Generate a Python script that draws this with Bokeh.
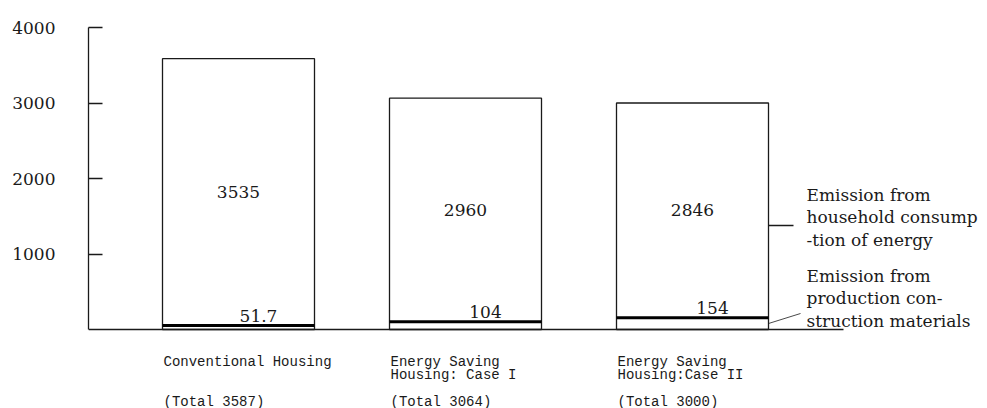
from bokeh.plotting import figure
from bokeh.models import Range1d, FixedTicker, ColumnDataSource
from bokeh.core.properties import value
from bokeh.embed import file_html
from bokeh.resources import INLINE

# ---- data ----
categories = ["Conventional Housing", "Energy Saving\nHousing: Case I", "Energy Saving\nHousing:Case II"]
total_labels = ["(Total 3587)", "(Total 3064)", "(Total 3000)"]
materials = [51.7, 104, 154]
household = [3535, 2960, 2846]
material_labels = ["51.7", "104", "154"]
household_labels = ["3535", "2960", "2846"]
y_ticks = [1000, 2000, 3000, 4000]
note_household = "Emission from\nhousehold consump\n-tion of energy"
note_materials = "Emission from\nproduction con-\nstruction materials"

# ---- layout ----
W, H = 987, 408
LEFT = 88
PX_X = 227.0          # px per category step
CENTER0 = 238.0       # px of first bar centre
PX_Y = 302.0 / 4000   # px per unit
ZERO_Y = 329.0        # px of y=0 from top
BAR_W = 152.0 / PX_X

x_start = -(CENTER0 - LEFT) / PX_X
x_end = (W - CENTER0) / PX_X
y_end = ZERO_Y / PX_Y
y_start = -(H - ZERO_Y) / PX_Y

FONT = value("DejaVu Serif")
CAT_FONT = value("Liberation Mono")
INK = "#1a1a1a"

xs = list(range(len(categories)))
tops = [m + h for m, h in zip(materials, household)]
src = ColumnDataSource(dict(
    x=xs,
    left=[x - BAR_W / 2 for x in xs],
    right=[x + BAR_W / 2 for x in xs],
    mat=materials,
    top=tops,
    mid=[m + h / 2 for m, h in zip(materials, household)],
    cat=categories,
    tot=total_labels,
    mlab=material_labels,
    hlab=household_labels,
    zero=[0] * len(xs),
))

p = figure(width=W, height=H, output_backend="svg", toolbar_location=None,
           x_range=Range1d(x_start, x_end), y_range=Range1d(y_start, y_end),
           x_axis_location=None, min_border_left=LEFT, min_border_right=0,
           min_border_top=0, min_border_bottom=0)
p.outline_line_color = None
p.grid.visible = False

ax = p.yaxis[0]
ax.ticker = FixedTicker(ticks=y_ticks)
ax.bounds = (0, 4000)
ax.major_tick_in = 14
ax.major_tick_out = 0
ax.minor_tick_line_color = None
ax.axis_line_color = INK
ax.major_tick_line_color = INK
ax.axis_line_width = 1.3
ax.major_tick_line_width = 1.3
ax.major_label_standoff = 33
ax.major_label_text_font = "DejaVu Serif"
ax.major_label_text_font_size = "17px"
ax.major_label_text_color = INK

# bars
p.quad(left="left", right="right", bottom="zero", top="mat", source=src,
       fill_color="white", line_color=INK, line_width=1.3)
p.quad(left="left", right="right", bottom="mat", top="top", source=src,
       fill_color="white", line_color=INK, line_width=1.3)
p.segment(x0="left", x1="right", y0="mat", y1="mat", source=src,
          line_color="black", line_width=3)

# baseline
base_end = xs[-1] + BAR_W / 2 + 75 / PX_X
p.segment(x0=[x_start], x1=[base_end], y0=[0], y1=[0], line_color=INK, line_width=1.3)

# values
p.text(x="x", y="mid", text="hlab", source=src, text_font=FONT, text_font_size="17px",
       text_align="center", text_baseline="middle", text_color=INK)
p.text(x="x", y="mat", text="mlab", source=src, text_font=FONT, text_font_size="17px",
       text_align="center", text_baseline="bottom", x_offset=20, y_offset=-4, text_color=INK)

# category labels
p.text(x="left", y="zero", text="cat", source=src, text_font=CAT_FONT, text_font_size="14px",
       text_align="left", text_baseline="top", x_offset=1, y_offset=24,
       text_line_height=0.85, text_color=INK)
p.text(x="left", y="zero", text="tot", source=src, text_font=CAT_FONT, text_font_size="14px",
       text_align="left", text_baseline="top", x_offset=1, y_offset=64, text_color=INK)

# side notes
rx = xs[-1] + BAR_W / 2
p.text(x=[rx], y=[(ZERO_Y - 217) / PX_Y], text=[note_household], text_font=FONT,
       text_font_size="17px", text_align="left", text_baseline="middle",
       x_offset=38, text_line_height=1.13, text_color=INK)
p.text(x=[rx], y=[(ZERO_Y - 298) / PX_Y], text=[note_materials], text_font=FONT,
       text_font_size="17px", text_align="left", text_baseline="middle",
       x_offset=38, text_line_height=1.13, text_color=INK)
p.segment(x0=[rx], x1=[rx + 25 / PX_X], y0=[(ZERO_Y - 225) / PX_Y], y1=[(ZERO_Y - 225) / PX_Y],
          line_color=INK, line_width=1.3)
p.segment(x0=[rx], x1=[rx + 32 / PX_X], y0=[(ZERO_Y - 323) / PX_Y], y1=[(ZERO_Y - 313) / PX_Y],
          line_color=INK, line_width=0.8)

open("out.html", "w").write(file_html(p, INLINE))
